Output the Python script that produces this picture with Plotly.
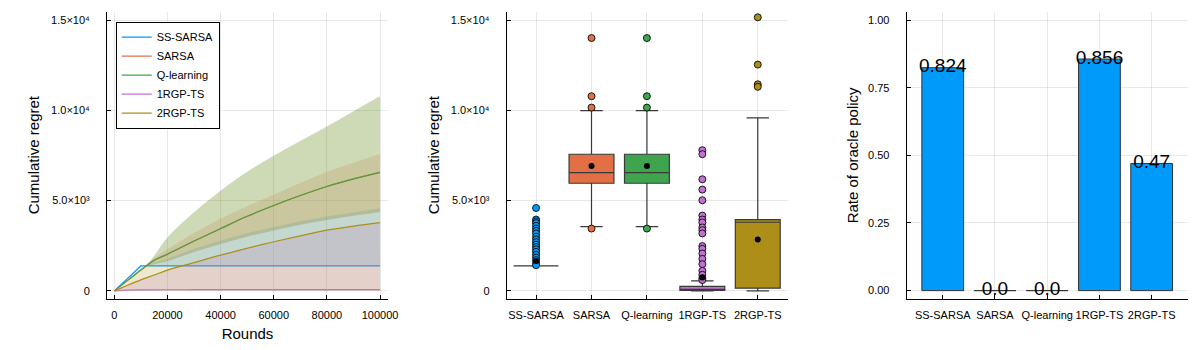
import plotly.graph_objects as go

FONT = "Liberation Sans, Arial, sans-serif"

# ---------------- data ----------------
series = ["SS-SARSA", "SARSA", "Q-learning", "1RGP-TS", "2RGP-TS"]
colors = ["#009AFA", "#E26F46", "#3EA44E", "#C271D2", "#AC8E18"]
fills = ["rgba(0,154,250,0.2)", "rgba(226,111,70,0.2)", "rgba(62,164,78,0.2)",
         "rgba(194,113,210,0.2)", "rgba(172,142,24,0.2)"]

rounds = [0, 5000, 10000, 12000, 15000, 20000, 30000, 40000, 50000, 60000, 70000, 80000, 90000, 100000]

ss_med = [0, 690, 1380, 1380, 1380, 1380, 1380, 1380, 1380, 1380, 1380, 1380, 1380, 1380]
ss_hi = [0, 690, 1380, 1420, 1550, 1780, 2330, 2790, 3200, 3540, 3850, 4120, 4360, 4570]

sarsa_med = [0, 580, 1160, 1380, 1700, 2030, 2760, 3450, 4130, 4730, 5280, 5780, 6200, 6560]
sarsa_lo = [0, 580, 1160, 1380, 1480, 1650, 2150, 2600, 3000, 3350, 3660, 3930, 4160, 4370]
sarsa_hi = [0, 580, 1160, 1420, 1800, 2300, 3200, 4000, 4680, 5330, 5980, 6580, 7100, 7580]

q_med = sarsa_med
q_lo = sarsa_lo
q_hi = [0, 580, 1160, 1420, 1950, 2950, 4350, 5550, 6600, 7480, 8300, 9100, 9950, 10775]

rgp1_med = [0, 40, 55, 58, 60, 62, 64, 66, 68, 70, 70, 70, 70, 70]
rgp1_lo = [0, 0, 0, 0, 0, 0, 0, 0, 0, 0, 0, 0, 0, 0]
rgp1_hi = [0, 310, 610, 720, 880, 1150, 1560, 1980, 2360, 2720, 3050, 3360, 3590, 3785]

rgp2_med = [0, 310, 610, 720, 880, 1150, 1560, 1980, 2360, 2720, 3050, 3360, 3590, 3785]
rgp2_lo = [0, 0, 0, 0, 0, 0, 0, 0, 0, 0, 0, 0, 0, 0]
rgp2_hi = [0, 580, 1160, 1420, 1950, 2950, 4350, 5550, 6600, 7480, 8300, 9100, 9950, 10775]

meds = [ss_med, sarsa_med, q_med, rgp1_med, rgp2_med]
los = [ss_med, sarsa_lo, q_lo, rgp1_lo, rgp2_lo]
his = [ss_hi, sarsa_hi, q_hi, rgp1_hi, rgp2_hi]
shapes_ = ["linear", "spline", "spline", "spline", "spline"]

# box plot statistics of final cumulative regret
box_q1 = [1380, 5960, 5960, 30, 150]
box_med = [1380, 6550, 6550, 80, 3800]
box_q3 = [1380, 7565, 7565, 250, 3950]
box_lowf = [1380, 3563, 3563, 0, 0]
box_upf = [1380, 9983, 9983, 550, 9575]
box_mean = [1660, 6918, 6918, 740, 2840]
outliers = [
    [4590, 3950, 3850, 3750, 3600, 3450, 3320, 3180, 3000, 2850, 2700, 2560, 2430,
     2300, 2160, 2000, 1850, 1700, 1550, 1420],
    [14000, 10780, 10150, 3450],
    [14000, 10780, 10150, 3450],
    [7790, 7570, 6180, 5610, 5020, 4170, 3950, 3790, 3510, 3360, 3180, 2480, 2330,
     2070, 1770, 1480, 1110, 890, 700, 600],
    [15150, 12530, 11440, 11300],
]

oracle_rate = [0.824, 0.0, 0.0, 0.856, 0.47]
oracle_text = ["0.824", "0.0", "0.0", "0.856", "0.47"]

regret_ticks = [0, 5000, 10000, 15000]
regret_ticktext = ["0", "5.0×10³", "1.0×10⁴", "1.5×10⁴"]
round_ticks = [0, 20000, 40000, 60000, 80000, 100000]
round_ticktext = ["0", "20000", "40000", "60000", "80000", "100000"]
rate_ticks = [0.0, 0.25, 0.5, 0.75, 1.0]

y_titles = ["Cumulative regret", "Cumulative regret", "Rate of oracle policy"]

# ---------------- figure ----------------
fig = go.Figure()

# left panel: ribbons + median lines
for i, name in enumerate(series):
    fig.add_trace(go.Scatter(x=rounds, y=los[i], mode="lines",
                             line=dict(width=0, color=colors[i], shape=shapes_[i]),
                             showlegend=False, hoverinfo="skip", xaxis="x", yaxis="y"))
    fig.add_trace(go.Scatter(x=rounds, y=his[i], mode="lines",
                             line=dict(width=0, color=colors[i], shape=shapes_[i]),
                             fill="tonexty", fillcolor=fills[i], showlegend=False,
                             hoverinfo="skip", xaxis="x", yaxis="y"))
    fig.add_trace(go.Scatter(x=rounds, y=meds[i], mode="lines", name=name,
                             line=dict(width=1.2, color=colors[i], shape=shapes_[i]),
                             xaxis="x", yaxis="y"))

# middle panel: box plots
for i, name in enumerate(series):
    fig.add_trace(go.Box(x=[name], q1=[box_q1[i]], median=[box_med[i]], q3=[box_q3[i]],
                         lowerfence=[box_lowf[i]], upperfence=[box_upf[i]],
                         width=0.81, whiskerwidth=0.5, fillcolor=colors[i],
                         line=dict(color="#3a3a3a", width=1.2), boxpoints=False,
                         showlegend=False, xaxis="x2", yaxis="y2"))
    fig.add_trace(go.Scatter(x=[name] * len(outliers[i]), y=outliers[i], mode="markers",
                             marker=dict(size=7, color=colors[i], line=dict(color="rgba(0,0,0,0.85)", width=1)),
                             showlegend=False, xaxis="x2", yaxis="y2"))
for i, name in enumerate(series):
    fig.add_trace(go.Scatter(x=[name], y=[box_mean[i]], mode="markers",
                             marker=dict(size=6, color="black"),
                             showlegend=False, xaxis="x2", yaxis="y2"))

# right panel: bars
fig.add_trace(go.Bar(x=series, y=oracle_rate, width=0.8,
                     marker=dict(color="#009AFA", line=dict(color="#333333", width=1)),
                     showlegend=False, xaxis="x3", yaxis="y3"))
fig.add_trace(go.Scatter(x=series, y=oracle_rate, mode="text", text=oracle_text,
                         textposition="middle center",
                         textfont=dict(size=19, color="black", family=FONT),
                         showlegend=False, xaxis="x3", yaxis="y3"))

W, H = 1200, 350
ydom = [1 - 299 / H, 1 - 11.7 / H]
axis_common = dict(showline=True, linecolor="black", linewidth=1, mirror=False,
                   ticks="inside", ticklen=4, tickcolor="black", tickwidth=1,
                   showgrid=True, gridcolor="rgba(0,0,0,0.09)", gridwidth=1,
                   zeroline=False, automargin=False,
                   tickfont=dict(size=11, color="black", family=FONT))

title_x = [33, 433, 852]
annotations = [dict(text=t, x=px / W, y=(ydom[0] + ydom[1]) / 2, xref="paper", yref="paper",
                    textangle=-90, showarrow=False, xanchor="center", yanchor="middle",
                    font=dict(size=15, family=FONT, color="black"))
               for t, px in zip(y_titles, title_x)]

fig.update_layout(
    width=W, height=H, margin=dict(l=0, r=0, t=0, b=0, autoexpand=False),
    paper_bgcolor="white", plot_bgcolor="white",
    font=dict(family=FONT, color="black"),
    boxmode="overlay",
    annotations=annotations,
    xaxis=dict(domain=[107 / W, 388 / W], range=[-2750, 103000], tickvals=round_ticks,
               ticktext=round_ticktext,
               title=dict(text="Rounds", font=dict(size=15), standoff=8),
               ticklabelstandoff=6, **axis_common),
    yaxis=dict(domain=ydom, range=[-450, 15460], tickvals=regret_ticks, ticktext=regret_ticktext,
               ticklabelstandoff=14, **axis_common),
    xaxis2=dict(domain=[506.7 / W, 787.7 / W], type="category", categoryorder="array",
                categoryarray=series, range=[-0.53, 4.54], anchor="y2",
                ticklabelstandoff=6, **axis_common),
    yaxis2=dict(domain=ydom, range=[-450, 15460], tickvals=regret_ticks, ticktext=regret_ticktext,
                anchor="x2", ticklabelstandoff=14, **axis_common),
    xaxis3=dict(domain=[906.7 / W, 1187.7 / W], type="category", categoryorder="array",
                categoryarray=series, range=[-0.69, 4.69], anchor="y3",
                ticklabelstandoff=6, **axis_common),
    yaxis3=dict(domain=ydom, range=[-0.031, 1.031], tickvals=rate_ticks, tickformat=".2f",
                anchor="x3", ticklabelstandoff=14, **axis_common),
    legend=dict(x=115.7 / W, y=1 - 21.7 / H, xanchor="left", yanchor="top",
                bgcolor="white", bordercolor="black", borderwidth=1,
                font=dict(size=11, family=FONT, color="black"), itemwidth=30,
                tracegroupgap=0, traceorder="normal"),
)

fig.write_html("out.html", config={"displayModeBar": False},
               post_script="document.body.style.margin='0px';document.body.style.padding='0px';")
